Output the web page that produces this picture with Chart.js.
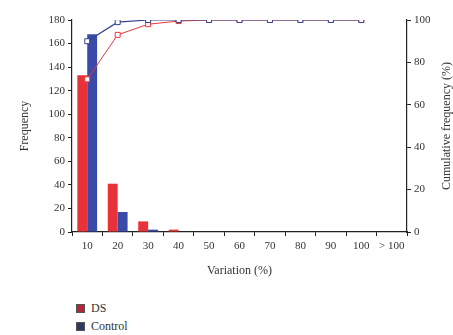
<!DOCTYPE html>
<html>
<head>
<meta charset="utf-8">
<script src="https://cdn.jsdelivr.net/npm/chart.js@4/dist/chart.umd.min.js"></script>
<style>
  html, body { margin: 0; padding: 0; background: #fff; }
  #wrap { position: relative; width: 453px; height: 335px; }
  #chart { position: absolute; left: 0; top: 0; }
  #legend { position: absolute; left: 76px; top: 299px; font-family: "Liberation Serif", serif; font-size: 12px; color: #333; }
  #legend div { height: 18px; line-height: 18px; display: flex; align-items: center; }
  #legend span.box { width: 7px; height: 7px; margin-right: 6px; border: 1px solid #555; }
</style>
</head>
<body>
<div id="wrap">
  <canvas id="chart" width="453" height="284"></canvas>
  <div id="legend"></div>
</div>
<script>
const categories = ["10", "20", "30", "40", "50", "60", "70", "80", "90", "100", "> 100"];

// frequency per variation bin
const dsFreq = [133, 41, 9, 2, 0, 0, 0, 0, 0, 0, 0];
const controlFreq = [168, 17, 2, 0, 0, 0, 0, 0, 0, 0, 0];

// cumulative frequency (%), no point for the last bin
const dsCum = [72, 93, 98, 99.5, 100, 100, 100, 100, 100, 100, null];
const controlCum = [90, 99, 100, 100, 100, 100, 100, 100, 100, 100, null];

const seriesNames = ["DS", "Control"];
const legendColors = ["#b02838", "#2e3862"];

const serif = "'Liberation Serif', 'DejaVu Serif', serif";

// right-hand axis title, read bottom to top like the left one
const rightTitle = {
  id: "rightTitle",
  afterDraw(chart) {
    const ctx = chart.ctx;
    const s = chart.scales.y1;
    ctx.save();
    ctx.translate(447, (s.top + s.bottom) / 2);
    ctx.rotate(-Math.PI / 2);
    ctx.font = "12px " + serif;
    ctx.fillStyle = "#333";
    ctx.textAlign = "center";
    ctx.textBaseline = "middle";
    ctx.fillText("Cumulative frequency (%)", 0, 0);
    ctx.restore();
  },
};

const ctx = document.getElementById("chart").getContext("2d");
const chart = new Chart(ctx, {
  type: "bar",
  data: {
    labels: categories,
    datasets: [
      {
        type: "line",
        label: "DS cumulative",
        data: dsCum,
        yAxisID: "y1",
        borderColor: "#e8383c",
        borderWidth: 1,
        pointStyle: "rect",
        pointRadius: 3.5,
        pointBorderWidth: 1,
        pointBackgroundColor: "#fff",
        pointBorderColor: "#e8383c",
        order: 1,
      },
      {
        type: "line",
        label: "Control cumulative",
        data: controlCum,
        yAxisID: "y1",
        borderColor: "#34428c",
        borderWidth: 1.2,
        pointStyle: "rect",
        pointRadius: 3.5,
        pointBorderWidth: 1,
        pointBackgroundColor: "#fff",
        pointBorderColor: "#34428c",
        order: 0,
      },
      {
        label: seriesNames[0],
        data: dsFreq,
        yAxisID: "y",
        backgroundColor: "#e8323a",
        categoryPercentage: 0.65,
        barPercentage: 1.0,
        order: 2,
      },
      {
        label: seriesNames[1],
        data: controlFreq,
        yAxisID: "y",
        backgroundColor: "#3a4aa8",
        categoryPercentage: 0.65,
        barPercentage: 1.0,
        order: 2,
      },
    ],
  },
  options: {
    responsive: false,
    animation: false,
    layout: { padding: { top: 20, left: 14, right: 0, bottom: 0 } },
    plugins: {
      legend: { display: false },
      tooltip: { enabled: false },
    },
    scales: {
      x: {
        grid: { display: true, drawOnChartArea: false, offset: true, color: "#222", tickLength: 4 },
        border: { color: "#222", width: 1.2 },
        ticks: { color: "#333", font: { family: serif, size: 11 }, padding: 4, maxRotation: 0, autoSkip: false },
        title: { display: true, text: "Variation (%)", color: "#333", font: { family: serif, size: 12 }, padding: { top: 4, bottom: 6 } },
        afterFit: (s) => { s.height = 52; },
      },
      y: {
        position: "left",
        min: 0,
        max: 180,
        ticks: { stepSize: 20, color: "#333", font: { family: serif, size: 11 }, padding: 3 },
        grid: { display: true, drawOnChartArea: false, color: "#222", tickLength: 4 },
        border: { color: "#222", width: 1.2 },
        title: { display: true, text: "Frequency", color: "#333", font: { family: serif, size: 12 }, padding: { top: 4, bottom: 4 } },
        afterFit: (s) => { s.width = 58; },
      },
      y1: {
        position: "right",
        min: 0,
        max: 100,
        ticks: { stepSize: 20, color: "#333", font: { family: serif, size: 11 }, padding: 3 },
        grid: { display: true, drawOnChartArea: false, color: "#222", tickLength: 4 },
        border: { color: "#222", width: 1.2 },
        afterFit: (s) => { s.width = 46; },
      },
    },
  },
  plugins: [rightTitle],
});

// legend for the bar series only
const legend = document.getElementById("legend");
chart.data.datasets
  .filter((d) => d.type !== "line")
  .forEach((d, i) => {
    const row = document.createElement("div");
    row.innerHTML = `<span class="box" style="background:${legendColors[i]}"></span>${d.label}`;
    legend.appendChild(row);
  });
</script>
</body>
</html>
